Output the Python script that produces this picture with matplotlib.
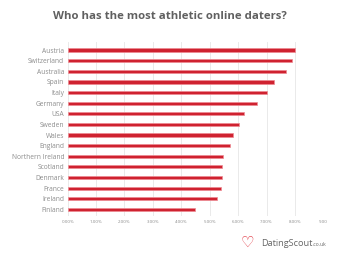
import matplotlib
matplotlib.use("Agg")
import matplotlib.pyplot as plt

countries = ["Austria", "Switzerland", "Australia", "Spain", "Italy", "Germany", "USA",
             "Sweden", "Wales", "England", "Northern Ireland", "Scotland", "Denmark",
             "France", "Ireland", "Finland"]
values = [8.01, 7.89, 7.68, 7.25, 7.03, 6.67, 6.20, 6.02, 5.81, 5.73, 5.46, 5.44, 5.42,
          5.40, 5.24, 4.48]
tick_vals = [0, 1, 2, 3, 4, 5, 6, 7, 8, 9]
tick_labels = ["0.00%", "1.00%", "2.00%", "3.00%", "4.00%", "5.00%", "6.00%", "7.00%",
               "8.00%", "9.00"]

plt.rcParams['font.family'] = ['Open Sans', 'DejaVu Sans']

fig = plt.figure(figsize=(3.4, 2.68), dpi=100)
ax = fig.add_axes([0.199, 0.195, 0.752, 0.648])

ypos = list(range(len(countries)))
ax.barh(ypos, values, height=0.3, color='#cf2230', edgecolor='#ee8a92', linewidth=0.5, zorder=3)
ax.set_ylim(len(countries) - 0.4, -0.75)
ax.set_xlim(0, 9)
ax.set_yticks(ypos)
ax.set_yticklabels(countries, fontsize=4.8, color='#8c8c8c')
ax.set_xticks(tick_vals)
ax.set_xticklabels(tick_labels, fontsize=3.2, color='#8a8a8a')
ax.tick_params(axis='both', length=0, pad=2.5)
ax.tick_params(axis='x', pad=3)
ax.grid(axis='x', color='#e6e6e6', linewidth=0.6, zorder=0)
for s in ax.spines.values():
    s.set_visible(False)

fig.text(0.5, 0.94, "Who has the most athletic online daters?", ha='center', va='center',
         fontsize=8.2, fontweight='bold', color='#606060')

# logo
fig.text(0.727, 0.097, "\u2661", ha='center', va='center', fontsize=11, color='#e0303c',
         family=['DejaVu Sans'])
t = fig.text(0.768, 0.093, "DatingScout", ha='left', va='center', fontsize=6.6, color='#666666')
fig.canvas.draw()
bb = t.get_window_extent(fig.canvas.get_renderer())
x_end = bb.x1 / fig.bbox.width
fig.text(x_end, 0.087, ".co.uk", ha='left', va='center', fontsize=3.6, color='#666666')

fig.savefig("out.png", dpi=100)
